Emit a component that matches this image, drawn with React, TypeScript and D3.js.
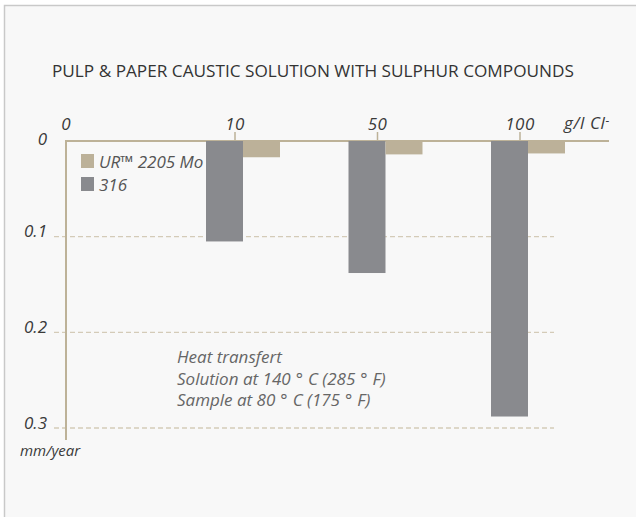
import React from "react";
import * as d3 from "d3";

const title = "PULP & PAPER CAUSTIC SOLUTION WITH SULPHUR COMPOUNDS";
const categories = ["10", "50", "100"];
const seriesNames = ["316", "UR™ 2205 Mo"];
const s316 = [0.105, 0.138, 0.288];
const ur2205 = [0.017, 0.014, 0.013];
const yTicks = [0, 0.1, 0.2, 0.3];
const yTickLabels = ["0", "0.1", "0.2", "0.3"];
const notes = ["Heat transfert", "Solution at 140°C (285°F)", "Sample at 80°C (175°F)"];

const TAN = "#bcb199";
const GRAY = "#898a8e";
const AXIS = "#bdb298";
const GRID = "#d4cbb8";
const FONT = "'Open Sans', 'Noto Sans', sans-serif";

// render a note with a little space around each degree sign
function spaced(n: string) {
  const parts = n.split("°");
  const out: React.ReactNode[] = [];
  parts.forEach((p, i) => {
    out.push(<tspan key={"p" + i} dx={i > 0 ? 5 : 0}>{p}</tspan>);
    if (i < parts.length - 1) out.push(<tspan key={"d" + i} dx={5}>°</tspan>);
  });
  return out;
}

export default function App() {
  const W = 636, H = 517;
  const x0 = 66, axisRight = 609;
  const y = d3.scaleLinear().domain([0, 0.3]).range([141, 428]);
  const xc = d3.scalePoint<string>().domain(categories).range([243, 528]);
  const xs = d3.scaleBand<string>().domain(seriesNames).range([-37, 37]);
  const colors = d3.scaleOrdinal<string, string>().domain(seriesNames).range([GRAY, TAN]);
  const values: Record<string, number[]> = { "316": s316, "UR™ 2205 Mo": ur2205 };
  const y0 = y(0);
  const lab = "#3a3a3a";

  return (
    <svg width={W} height={H} style={{ position: "absolute", left: 0, top: 0 }} fontFamily={FONT}>
      <rect x={0} y={0} width={W} height={H} fill="#ffffff" />
      <rect x={4.5} y={5.5} width={W + 10} height={H + 10} fill="#f8f8f8" stroke="#c9c9c9" strokeWidth={1.5} />

      <text x={52} y={77} fontSize={17.2} fill="#333">{title}</text>

      {/* grid lines */}
      {yTicks.filter((t) => t > 0).map((t) => (
        <line key={t} x1={54} x2={554} y1={y(t)} y2={y(t)} stroke={GRID} strokeWidth={1.3} strokeDasharray="5,3" />
      ))}

      {/* axes */}
      <line x1={x0} x2={axisRight} y1={y0} y2={y0} stroke={AXIS} strokeWidth={2} />
      <line x1={x0} x2={x0} y1={y0 - 1} y2={440} stroke={AXIS} strokeWidth={2} />
      {categories.map((c) => (
        <line key={c} x1={(xc(c) as number) - 8} x2={(xc(c) as number) - 8} y1={y0} y2={y0 - 9} stroke={AXIS} strokeWidth={1.5} />
      ))}

      {/* bars */}
      {seriesNames.map((s) =>
        categories.map((c, i) => (
          <rect
            key={s + c}
            x={(xc(c) as number) + (xs(s) as number)}
            y={y0}
            width={xs.bandwidth()}
            height={y(values[s][i]) - y0}
            fill={colors(s)}
          />
        ))
      )}

      {/* x tick labels */}
      <text x={x0} y={130} fontSize={17} fontStyle="italic" fill={lab} textAnchor="middle">0</text>
      {categories.map((c) => (
        <text key={c} x={(xc(c) as number) - 8} y={130} fontSize={17} fontStyle="italic" fill={lab} textAnchor="middle" letterSpacing={0.5}>{c}</text>
      ))}
      <text x={564} y={129} fontSize={17} fontStyle="italic" fill={lab} letterSpacing={0.6}>
        g/l Cl<tspan dy={-4} fontSize={12}>-</tspan>
      </text>

      {/* y tick labels */}
      {yTicks.map((t, i) => (
        <text key={t} x={47} y={y(t) + (t === 0 ? 4 : 0.5)} fontSize={17} fontStyle="italic" fill={lab} textAnchor="end">{yTickLabels[i]}</text>
      ))}
      <text x={20} y={456} fontSize={15} fontStyle="italic" fill={lab}>mm/year</text>

      {/* legend */}
      {[seriesNames[1], seriesNames[0]].map((s, i) => (
        <g key={s} transform={`translate(81, ${154 + i * 23})`}>
          <rect x={0} y={0} width={13} height={14} fill={colors(s)} />
          <text x={18} y={14} fontSize={17} fontStyle="italic" fill="#555">{s}</text>
        </g>
      ))}

      {/* notes */}
      {notes.map((n, i) => (
        <text key={n} x={177} y={363 + i * 21.5} fontSize={17} fontStyle="italic" fill="#666">{spaced(n)}</text>
      ))}
    </svg>
  );
}
